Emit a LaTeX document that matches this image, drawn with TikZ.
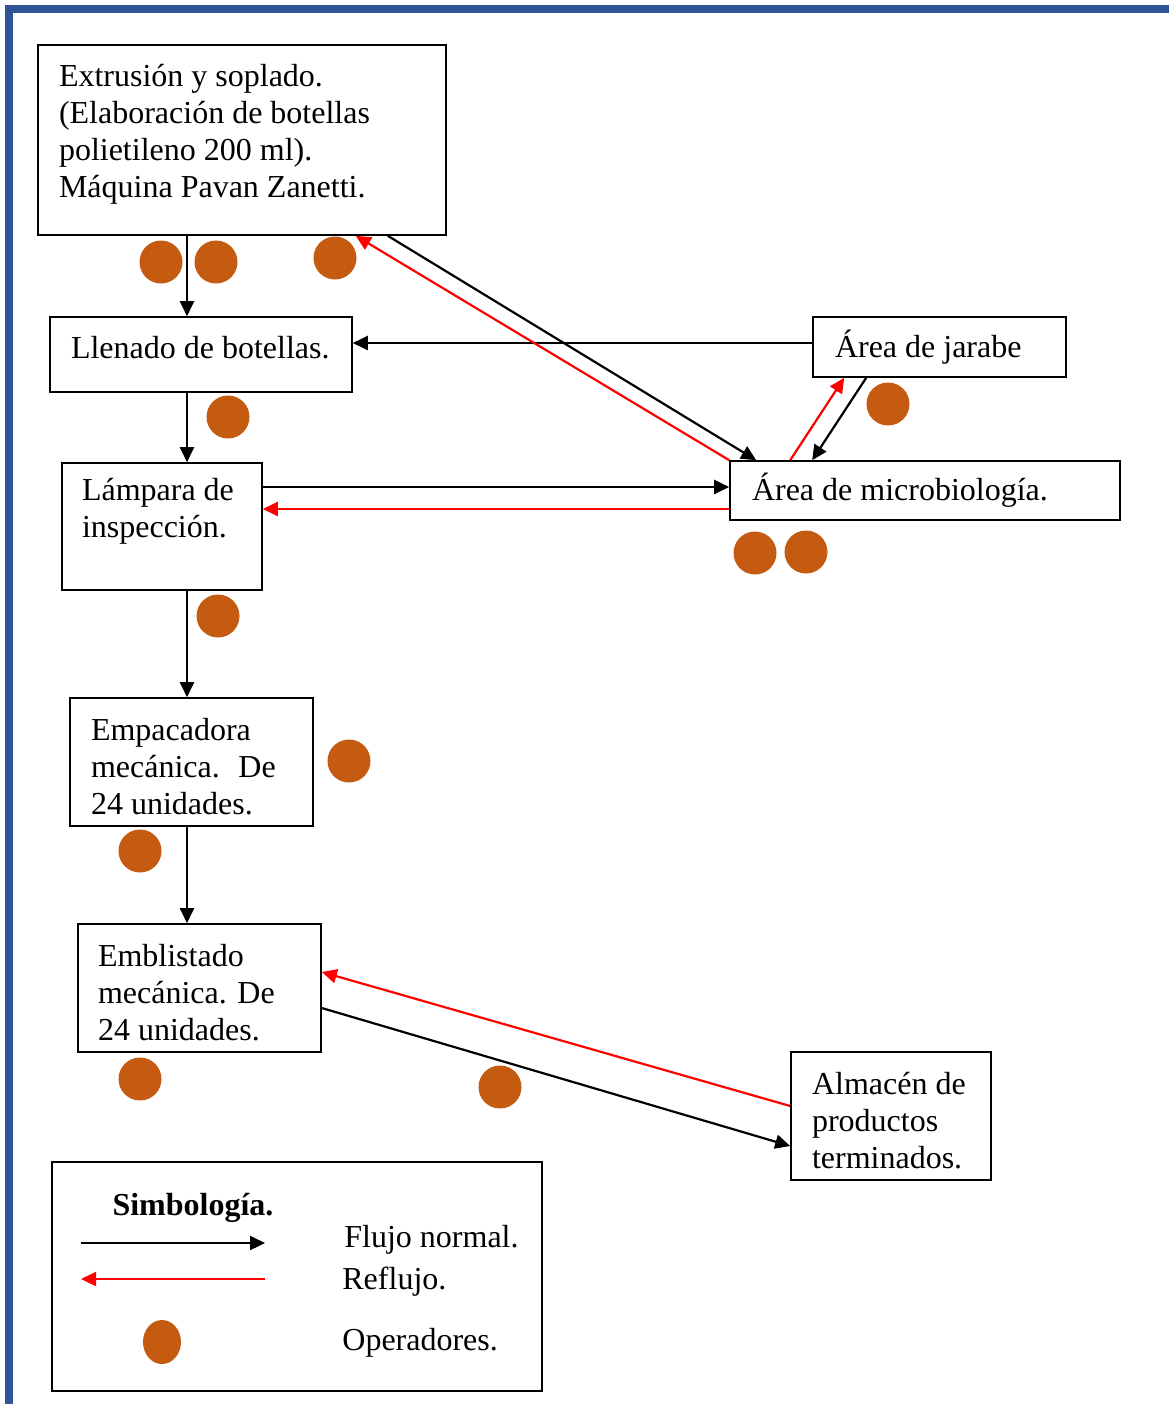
\documentclass[tikz,border=0pt]{standalone}
\usepackage{fontspec}
\setmainfont{Liberation Serif}
\usetikzlibrary{arrows.meta}
\definecolor{frameblue}{HTML}{2F5597}
\definecolor{opcolor}{HTML}{C55A11}

\begin{document}
\begin{tikzpicture}[x=0.5pt, y=-0.5pt,
	box/.style={draw, line width=0.8pt, rectangle, align=flush left, inner ysep=0pt,
		font=\fontsize{16}{18.5}\selectfont},
	txt/.style={inner sep=0pt, anchor=west, font=\fontsize{16}{18.5}\selectfont},
	arr/.style={line width=1.1pt, -{Triangle[length=7.5pt, width=7pt]}},
	back/.style={arr, red}]
	\path[use as bounding box] (0,0) rectangle (1169,1404);
	\draw[frameblue, line width=4pt] (9.3,1404) -- (9.3,9.3) -- (1169,9.3);
	
	% operadores
	\foreach \x/\y in {161/262, 216/262, 335/258, 228/417, 888/404, 755/553,
		806/552, 218/616, 349/761, 140/851, 140/1079, 500/1087}
		\fill[opcolor] (\x,\y) circle (10.75pt);
	
	\node[box, inner xsep=10.5pt, text width=183pt, minimum height=95pt, text depth=65pt] (ext) at (242,140)
	{Extrusión y soplado.\\ (Elaboración de botellas\\ polietileno 200 ml).\\ Máquina Pavan Zanetti.};
	\node[box, inner xsep=10.5pt, text width=130pt, minimum height=37.5pt, text depth=7pt] (llen) at (201,354.5)
	{Llenado de botellas.};
	\node[box, inner xsep=10pt, text width=80pt, minimum height=63.5pt] (lamp) at (162,526.5)
	{Lámpara de\\ inspección.\\ \mbox{}};
	\node[box, inner xsep=10.5pt, text width=100.5pt, minimum height=64pt, text depth=33pt] (emp) at (191.5,762)
	{Empacadora\\ mecánica.~ De\\ 24 unidades.};
	\node[box, inner xsep=10pt, text width=101.5pt, minimum height=64pt, text depth=33pt] (embl) at (199.5,988)
	{Emblistado\\ mecánica. De\\ 24 unidades.};
	\node[box, inner xsep=10.5pt, text width=79pt, minimum height=64pt, text depth=33pt] (alm) at (891,1116)
	{Almacén de\\ productos\\ terminados.};
	\node[box, inner xsep=11pt, text width=104.5pt, minimum height=30pt] (jar) at (939.5,347)
	{Área de jarabe};
	\node[box, inner xsep=11pt, text width=173pt, minimum height=29.5pt] (micro) at (925,490.5)
	{Área de microbiología.};
	
	% flujo principal
	\coordinate (spine) at (187,0);
	\draw[arr] (ext.south -| spine) -- (llen.north -| spine);
	\draw[arr] (llen.south -| spine) -- (lamp.north -| spine);
	\draw[arr] (lamp.south -| spine) -- (emp.north -| spine);
	\draw[arr] (emp.south -| spine) -- (embl.north -| spine);
	
	\draw[arr] ([yshift=2pt]jar.west) -- ([yshift=2pt]jar.west -| llen.east);
	\draw[arr] ([xshift=-29.5pt]ext.south east) -- ([xshift=13.5pt]micro.north west);
	\draw[back] (micro.north west) -- ([xshift=-45.5pt]ext.south east);
	\draw[arr] ([xshift=27pt]jar.south west) -- ([xshift=41.5pt]micro.north west);
	\draw[back] ([xshift=30.5pt]micro.north west) -- ([xshift=16pt]jar.south west);
	\draw[arr] ([yshift=1.75pt]micro.west -| lamp.east) -- ([yshift=1.75pt]micro.west);
	\draw[back] ([yshift=-9.25pt]micro.west) -- ([yshift=-9.25pt]micro.west -| lamp.east);
	\draw[arr] ([yshift=-10pt]embl.east) -- ([yshift=-15pt]alm.west);
	\draw[back] ([yshift=5pt]alm.west) -- ([yshift=8pt]embl.east);
	
	% simbologia
	\node[draw, line width=0.8pt, minimum width=245pt, minimum height=114.5pt] (leg) at (297,1276.5) {};
	\node[font=\fontsize{16}{18.5}\selectfont\bfseries] (legtitle) at (193,1208) {Simbología.};
	\coordinate (la) at (81,1243);
	\coordinate (lb) at (265,1243);
	\coordinate (lc) at (81,1279);
	\coordinate (ld) at (265,1279);
	\draw[arr] (la) -- (lb);
	\draw[back] (ld) -- (lc);
	\fill[opcolor] (162,1342) ellipse (9.5pt and 11pt);
	\node[txt] (flujo) at (344,1240) {Flujo normal.};
	\node[txt] (reflujo) at (342,1282) {Reflujo.};
	\node[txt] (oper) at (342,1343) {Operadores.};
\end{tikzpicture}
\end{document}
